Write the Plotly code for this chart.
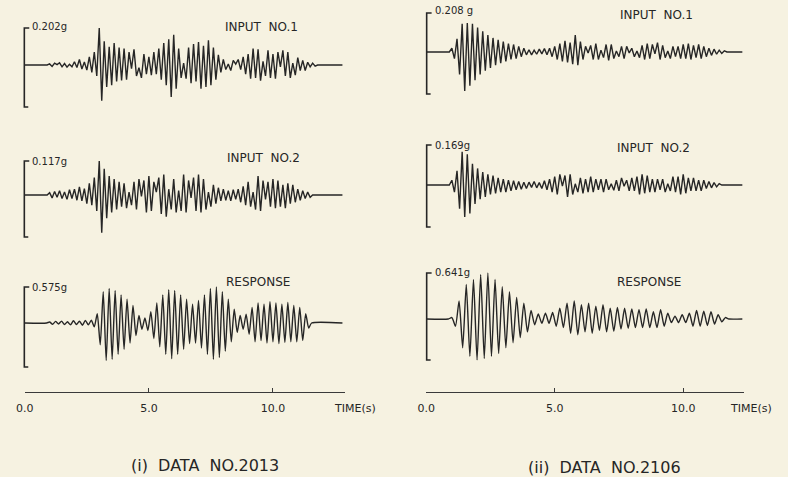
import plotly.graph_objects as go

# ---------------- data ----------------
# Accelerations in g at successive extrema; sampling start T0 and step DT in s.
L_IN1_T0, L_IN1_DT = 1.0, 0.10
L_IN1 = [0.006, -0.008, 0.010, 0.002, 0.012, -0.010, 0.008, -0.012, 0.004, -0.010,
         0.018, -0.014, 0.030, -0.022, 0.016, -0.028, 0.045, -0.040, 0.070, -0.060,
         0.202, -0.195, 0.130, -0.120, 0.100, -0.110, 0.120, -0.090, 0.095, -0.085,
         0.090, -0.080, 0.070, -0.020, 0.085, -0.060, -0.015, -0.070, 0.060, -0.050,
         0.045, -0.055, 0.070, -0.050, 0.090, -0.080, 0.120, -0.110, 0.140, -0.175,
         0.165, -0.130, 0.090, -0.070, 0.010, -0.075, 0.095, -0.100, 0.115, -0.090,
         0.125, -0.130, 0.105, -0.120, 0.135, -0.110, 0.095, -0.080, 0.055, -0.040,
         0.030, -0.025, 0.005, -0.030, 0.025, 0.005, 0.030, -0.025, 0.045, -0.050,
         0.060, -0.075, 0.090, -0.070, 0.085, -0.085, 0.020, -0.060, 0.080, -0.070,
         0.060, -0.075, 0.070, -0.010, 0.080, -0.060, 0.070, -0.070, 0.010, -0.055,
         0.040, -0.030, 0.025, -0.030, 0.015, -0.010, 0.010, -0.006]

L_IN2_T0, L_IN2_DT = 1.0, 0.10
L_IN2 = [0.008, -0.010, 0.012, -0.008, 0.015, -0.012, 0.010, -0.015, 0.018, -0.012,
         0.020, -0.018, 0.028, -0.020, 0.022, -0.030, 0.040, -0.035, 0.060, -0.055,
         0.117, -0.130, 0.090, -0.080, 0.065, -0.060, 0.055, -0.050, 0.045, -0.040,
         0.040, -0.045, 0.010, -0.035, 0.045, -0.050, 0.055, -0.005, 0.050, -0.060,
         0.065, -0.055, 0.045, 0.010, 0.060, -0.065, 0.070, -0.075, 0.020, -0.050,
         0.055, -0.060, 0.015, -0.055, 0.070, -0.060, 0.050, -0.010, 0.060, -0.055,
         0.070, -0.060, 0.055, -0.050, 0.010, -0.040, 0.035, -0.030, 0.025, -0.020,
         0.020, -0.018, 0.015, -0.020, 0.018, -0.015, 0.020, -0.025, 0.030, -0.035,
         0.045, -0.040, 0.010, -0.050, 0.065, -0.055, 0.050, -0.015, 0.045, -0.040,
         0.055, -0.045, 0.050, -0.040, 0.035, -0.045, 0.040, -0.030, 0.035, -0.025,
         0.020, -0.018, 0.015, -0.012, 0.010, -0.008]

L_RES_T0, L_RES_DT = 1.0, 0.12
L_RES = [0.015, -0.020, 0.025, -0.015, 0.030, -0.025, 0.020, -0.030, 0.035, -0.025,
         0.030, -0.035, 0.040, -0.030, 0.045, -0.060, 0.150, -0.350, 0.500, -0.600,
         0.550, -0.580, 0.520, -0.500, 0.450, -0.420, 0.380, -0.320, 0.280, -0.200,
         0.120, -0.100, 0.080, -0.120, 0.180, -0.250, 0.320, -0.380, 0.450, -0.500,
         0.530, -0.570, 0.520, -0.500, 0.450, -0.420, 0.380, -0.330, 0.300, -0.320,
         0.360, -0.400, 0.450, -0.500, 0.550, -0.580, 0.575, -0.550, 0.500, -0.450,
         0.380, -0.300, 0.220, -0.150, 0.120, -0.100, 0.140, -0.180, 0.250, -0.300,
         0.320, -0.280, 0.300, -0.320, 0.340, -0.300, 0.320, -0.330, 0.300, -0.310,
         0.330, -0.300, 0.280, -0.300, 0.250, -0.280, 0.150, -0.080]

R_IN1_T0, R_IN1_DT = 1.0, 0.10
R_IN1 = [0.020, -0.035, 0.070, -0.120, 0.150, -0.208, 0.155, -0.180, 0.150, -0.150,
         0.130, -0.120, 0.110, -0.100, 0.090, -0.085, 0.075, -0.070, 0.065, -0.060,
         0.055, -0.050, 0.045, -0.040, 0.040, -0.035, 0.030, -0.025, 0.020, -0.015,
         0.012, -0.015, 0.010, -0.012, 0.015, -0.010, 0.018, -0.015, 0.020, -0.025,
         0.030, -0.040, 0.045, -0.050, 0.060, -0.055, 0.050, -0.065, 0.090, -0.070,
         0.055, -0.040, 0.030, -0.005, 0.035, -0.040, 0.045, -0.040, 0.010, -0.030,
         0.040, -0.045, 0.040, -0.035, 0.005, -0.025, 0.030, -0.035, 0.030, -0.005,
         0.020, -0.025, 0.005, -0.030, 0.035, -0.040, 0.045, -0.035, 0.040, -0.010,
         0.050, -0.040, 0.035, -0.030, 0.005, -0.035, 0.030, -0.025, 0.030, -0.035,
         0.040, -0.035, 0.045, -0.040, 0.035, -0.030, 0.040, -0.035, 0.030, -0.025,
         0.020, -0.018, 0.015, -0.012, 0.010, -0.008, 0.006]

R_IN2_T0, R_IN2_DT = 1.0, 0.10
R_IN2 = [0.020, -0.030, 0.060, -0.100, 0.140, -0.135, 0.130, -0.120, 0.090, -0.080,
         0.070, -0.060, 0.055, -0.050, 0.045, -0.040, 0.040, -0.035, 0.030, -0.030,
         0.025, -0.030, 0.020, -0.025, 0.018, -0.020, 0.015, -0.018, 0.012, -0.015,
         0.012, -0.010, 0.015, -0.012, 0.010, -0.015, 0.018, -0.020, 0.025, -0.030,
         0.035, -0.040, 0.045, -0.005, 0.040, -0.050, 0.045, -0.040, 0.005, -0.030,
         0.030, -0.035, 0.025, -0.030, 0.035, -0.030, 0.025, -0.020, 0.025, -0.030,
         0.025, -0.020, 0.005, -0.022, 0.020, -0.025, 0.030, -0.005, 0.020, -0.025,
         0.030, -0.025, 0.035, -0.040, 0.045, -0.035, 0.040, -0.030, 0.025, -0.030,
         0.025, -0.020, 0.025, -0.030, 0.005, -0.025, 0.035, -0.030, 0.035, -0.040,
         0.045, -0.035, 0.030, -0.025, 0.030, -0.025, 0.020, -0.025, 0.020, -0.015,
         0.015, -0.012, 0.010, -0.008, 0.006]

R_RES_T0, R_RES_DT = 1.0, 0.14
R_RES = [0.020, -0.100, 0.250, -0.400, 0.480, -0.520, 0.550, -0.570, 0.620, -0.550,
         0.641, -0.520, 0.550, -0.480, 0.450, -0.400, 0.380, -0.330, 0.300, -0.260,
         0.220, -0.180, 0.120, -0.080, 0.070, -0.060, 0.080, -0.060, 0.090, -0.100,
         0.150, -0.120, 0.220, -0.200, 0.250, -0.220, 0.200, -0.180, 0.220, -0.200,
         0.180, -0.160, 0.200, -0.180, 0.150, -0.170, 0.160, -0.140, 0.150, -0.130,
         0.140, -0.120, 0.130, -0.120, 0.140, -0.120, 0.100, -0.120, 0.130, -0.100,
         0.080, -0.050, 0.040, -0.050, 0.060, -0.050, 0.080, -0.100, 0.120, -0.100,
         0.110, -0.090, 0.100, -0.070, 0.060, -0.040, 0.020]

PEAKS = {"L1": "0.202g", "L2": "0.117g", "L3": "0.575g",
         "R1": "0.208 g", "R2": "0.169g", "R3": "0.641g"}
PEAK_VALUES = {"L1": 0.202, "L2": 0.117, "L3": 0.575, "R1": 0.208, "R2": 0.169, "R3": 0.641}
TRACE_NAMES = {"1": "INPUT\u00a0 NO.1", "2": "INPUT\u00a0 NO.2", "3": "RESPONSE"}
TICK_VALS = [0, 5, 10]
TICK_TEXT = ["0.0", "5.0", "10.0"]
AXIS_TITLE = "TIME(s)"
PANEL_TITLES = {"L": "(i)\u00a0 DATA\u00a0 NO.2013", "R": "(ii)\u00a0 DATA\u00a0 NO.2106"}

# ---------------- layout geometry (pixels) ----------------
W, H = 788, 477
BG = "#f6f2e1"
INK = "#262626"
FONT = "DejaVu Sans"


def px(p):
    return p / W


def py(p):
    return 1 - p / H


PANEL = {
    "L": dict(x0=16, x1=340, tmax=(340 - 16) / 25.1, tend=12.8, bx=15.5, xaxis="x"),
    "R": dict(x0=422, x1=743, tmax=(743 - 422) / 26.0, tend=12.3, bx=422.5, xaxis="x2"),
}
AXIS_Y = 392
ROWS = {  # baseline, bracket top, bracket bottom (pixels)
    "L1": (65, 28, 107), "L2": (195, 161, 237), "L3": (323, 287, 367),
    "R1": (52, 13, 94), "R2": (185, 145, 227), "R3": (319, 273, 360),
}
SERIES = {
    "L1": (L_IN1_T0, L_IN1_DT, L_IN1), "L2": (L_IN2_T0, L_IN2_DT, L_IN2),
    "L3": (L_RES_T0, L_RES_DT, L_RES), "R1": (R_IN1_T0, R_IN1_DT, R_IN1),
    "R2": (R_IN2_T0, R_IN2_DT, R_IN2), "R3": (R_RES_T0, R_RES_DT, R_RES),
}
LABEL_POS = {  # peak-label y, trace-name centre x, y
    "L1": (27, 255, 27), "L2": (162, 257, 158), "L3": (287, 252, 282),
    "R1": (11, 655, 15), "R2": (145, 652, 148), "R3": (272, 647, 282),
}

fig = go.Figure()
layout = dict(width=W, height=H, margin=dict(l=0, r=0, t=0, b=0),
              paper_bgcolor=BG, plot_bgcolor="rgba(0,0,0,0)", showlegend=False,
              font=dict(family=FONT, color=INK))
shapes, annotations = [], []


def note(x, y, text, size, xanchor="center"):
    annotations.append(dict(x=px(x), y=py(y), xref="paper", yref="paper", text=text,
                            showarrow=False, xanchor=xanchor, yanchor="middle",
                            font=dict(size=size, color=INK, family=FONT)))


HALF = 48
for i, key in enumerate(["L1", "L2", "L3", "R1", "R2", "R3"]):
    side = key[0]
    pan = PANEL[side]
    b, top, bot = ROWS[key]
    s = (b - top) / PEAK_VALUES[key]  # pixels per g
    yname = "yaxis" if i == 0 else f"yaxis{i + 1}"
    yref = "y" if i == 0 else f"y{i + 1}"
    layout[yname] = dict(domain=[py(b + HALF), py(b - HALF)], range=[-HALF / s, HALF / s],
                         visible=False, anchor=pan["xaxis"], fixedrange=True)
    t0, dt, vals = SERIES[key]
    t = [0.0, t0 - dt] + [t0 + k * dt for k in range(len(vals))] + [t0 + len(vals) * dt, pan["tend"]]
    v = [0.0, 0.0] + list(vals) + [0.0, 0.0]
    line = dict(color=INK, width=1.4)
    if key[1] == "3":
        line.update(shape="spline", smoothing=0.6)
    fig.add_trace(go.Scatter(x=t, y=v, mode="lines", xaxis=pan["xaxis"], yaxis=yref,
                             line=line, hoverinfo="skip"))
    bx = pan["bx"]
    path = (f"M {px(bx + 5)},{py(top)} L {px(bx)},{py(top)} L {px(bx)},{py(bot)} "
            f"L {px(bx + 4)},{py(bot)}")
    shapes.append(dict(type="path", xref="paper", yref="paper", path=path,
                       line=dict(color=INK, width=1.6)))
    ly, nx, ny = LABEL_POS[key]
    note(bx + 6, ly, PEAKS[key], 10, xanchor="left")
    note(nx, ny, TRACE_NAMES[key[1]], 12)

for side, xname in (("L", "xaxis"), ("R", "xaxis2")):
    pan = PANEL[side]
    layout[xname] = dict(domain=[px(pan["x0"]), px(pan["x1"])], range=[0, pan["tmax"]],
                         anchor="free", position=py(AXIS_Y), showline=True,
                         linecolor="#3a3a3a", linewidth=1.3, ticks="inside", ticklen=4,
                         tickwidth=1.2, tickcolor="#3a3a3a", tickvals=TICK_VALS,
                         ticktext=TICK_TEXT, showgrid=False, zeroline=False,
                         tickfont=dict(size=11, color=INK, family=FONT),
                         ticklabelstandoff=6, fixedrange=True)

note(350, 408, AXIS_TITLE, 11)
note(751, 408, AXIS_TITLE, 11)
note(198, 465, PANEL_TITLES["L"], 16)
note(602, 467, PANEL_TITLES["R"], 16)

layout["shapes"] = shapes
layout["annotations"] = annotations
fig.update_layout(**layout)
fig.write_html("out.html", config={"displayModeBar": False},
               post_script=f"document.body.style.margin='0';document.body.style.background='{BG}';")
